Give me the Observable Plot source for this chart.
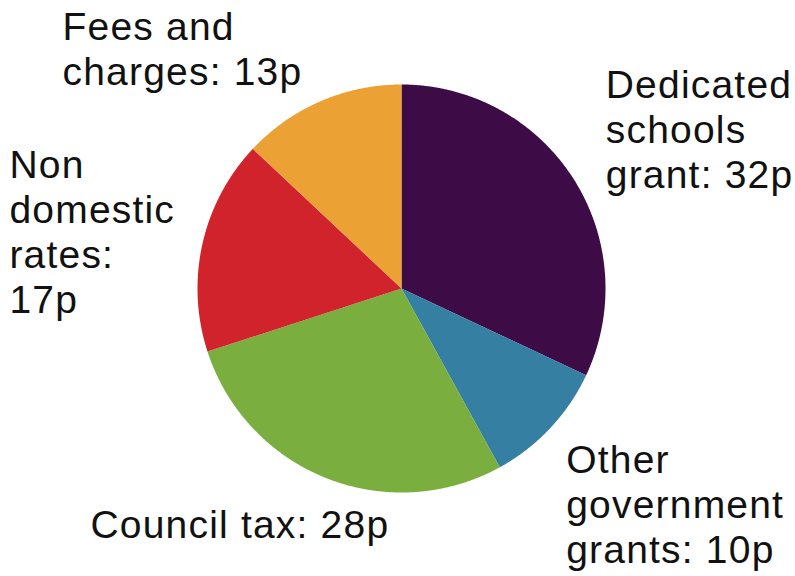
<!DOCTYPE html>
<html>
<head>
<meta charset="utf-8">
<script src="https://cdn.jsdelivr.net/npm/d3@7"></script>
<script src="https://cdn.jsdelivr.net/npm/@observablehq/plot@0.6"></script>
<style>
  html, body { margin: 0; padding: 0; background: #ffffff; }
  #chart svg { display: block; }
</style>
</head>
<body>
<div id="chart"></div>
<script>
// ---- data ----
const categories = ["Dedicated schools grant", "Other government grants", "Council tax", "Non domestic rates", "Fees and charges"];
const values = [32, 10, 28, 17, 13];
const colors = ["#3d0b46", "#357fa2", "#7aae3f", "#d1232c", "#eba133"];

// ---- layout (not data) ----
const W = 795, H = 576;
const CX = 401, CY = 288, R = 204;           // pie centre and radius in px
const labelLayout = {
  "Dedicated schools grant": {text: "Dedicated\nschools\ngrant: 32p", dx: 32, dy: 9},
  "Other government grants": {text: "Other\ngovernment\ngrants: 10p", dx: 16, dy: 135},
  "Council tax":             {text: "Council tax: 28p", dx: -236, dy: 60},
  "Non domestic rates":      {text: "Non\ndomestic\nrates:\n17p", dx: -193, dy: 69.5},
  "Fees and charges":        {text: "Fees and\ncharges: 13p", dx: -258, dy: -16}
};

const table = categories.map((name, i) => ({name, value: values[i]}));
const arcs = d3.pie().value(d => d.value).sort(null).startAngle(0)(table);

// slice outlines in unit-circle coordinates (y pointing down)
const slicePoints = [];
for (const a of arcs) {
  const name = a.data.name;
  slicePoints.push({name, x: 0, y: 0});
  const steps = Math.max(2, Math.ceil((a.endAngle - a.startAngle) / (Math.PI / 720)));
  for (let k = 0; k <= steps; ++k) {
    const t = a.startAngle + (a.endAngle - a.startAngle) * k / steps;
    slicePoints.push({name, x: Math.sin(t), y: -Math.cos(t)});
  }
  slicePoints.push({name, x: 0, y: 0});
}

// label anchors: mid-angle point on the rim, nudged by layout offsets
const labels = arcs.map(a => {
  const m = (a.startAngle + a.endAngle) / 2;
  const L = labelLayout[a.data.name];
  return {
    name: a.data.name,
    text: L.text,
    x: Math.sin(m) + L.dx / R,
    y: -Math.cos(m) + L.dy / R
  };
});

const chart = Plot.plot({
  width: W,
  height: H,
  margin: 0,
  x: {domain: [-CX / R, (W - CX) / R], range: [0, W], axis: null},
  y: {domain: [-CY / R, (H - CY) / R], range: [0, H], axis: null},
  color: {domain: categories, range: colors},
  style: {fontFamily: "'Liberation Sans', Arial, Helvetica, sans-serif", background: "#ffffff", color: "#000000", letterSpacing: "1.2px"},
  marks: [
    Plot.line(slicePoints, {x: "x", y: "y", z: "name", fill: "name", stroke: "none", curve: "linear"}),
    Plot.text(labels, {
      x: "x", y: "y", text: "text",
      textAnchor: "start", lineAnchor: "bottom", lineHeight: 1.16,
      fontSize: 39, fill: "#111111"
    })
  ]
});
document.getElementById("chart").appendChild(chart);
</script>
</body>
</html>
